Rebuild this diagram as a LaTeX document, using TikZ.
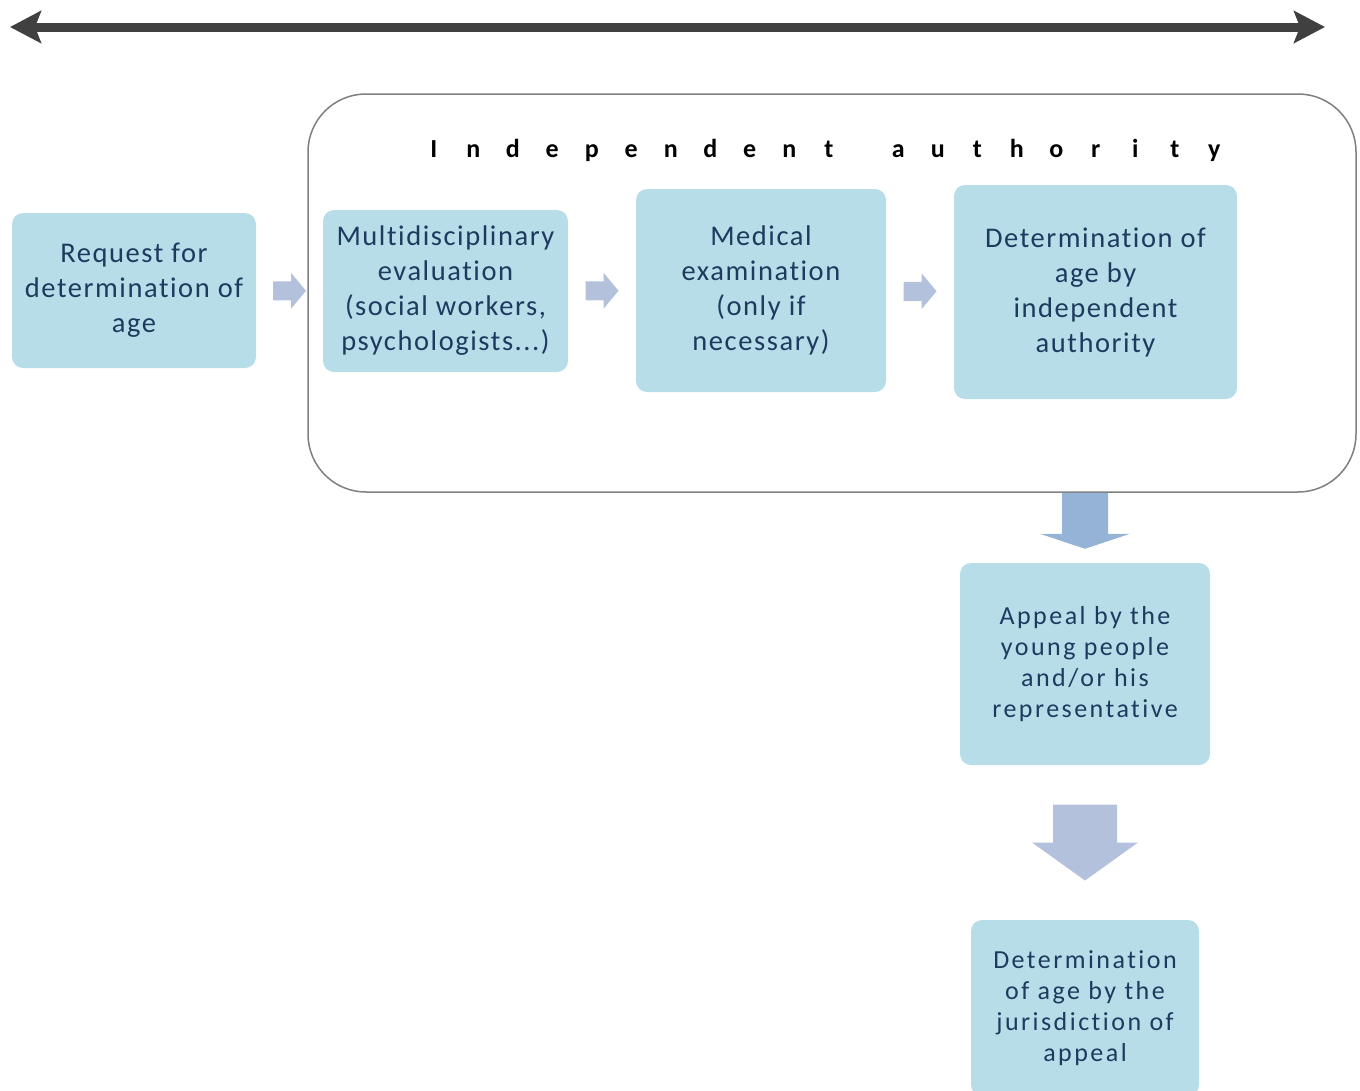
\documentclass[tikz,border=0pt]{standalone}
\usepackage{fontspec}
\setmainfont{Carlito}
\newfontfamily\stagefont{Carlito}[LetterSpace=5.5,Ligatures=NoCommon]
\newfontfamily\appealfont{Carlito}[LetterSpace=9.5,Ligatures=NoCommon]
\usetikzlibrary{arrows.meta,calc}

\definecolor{boxfill}{HTML}{B7DDE8}
\definecolor{boxtext}{HTML}{1F3A5F}
\definecolor{frameline}{HTML}{7F7F7F}
\definecolor{smallarrow}{HTML}{B4C1DD}
\definecolor{firstdown}{HTML}{95B3D7}
\definecolor{seconddown}{HTML}{B4C1DD}
\definecolor{timeline}{HTML}{404040}

% one letter of the spaced-out heading
\newcommand\spacedletter[1]{\makebox[39.5pt]{#1}}

\tikzset{
  stagebox/.style={fill=boxfill, rounded corners=11pt, inner sep=0pt,
    text=boxtext, align=center,
    font=\stagefont\fontsize{28.5}{35}\selectfont},
  appealbox/.style={stagebox, font=\appealfont\fontsize{26}{31}\selectfont},
  rightarrow/.pic={
    \fill[smallarrow] (-16.5,-9.5) -- (1.5,-9.5) -- (1.5,-18) -- (16.5,0)
      -- (1.5,18) -- (1.5,9.5) -- (-16.5,9.5) -- cycle;
  },
}

\begin{document}
\begin{tikzpicture}[x=1pt,y=-1pt]
\useasboundingbox (0,0) rectangle (1360,1090);
\begin{scope}
\clip (0,0) rectangle (1360,1090);

% timeline across the top
\coordinate (tl) at (10,27);
\coordinate (tr) at (1325,27);
\draw[timeline, line width=9pt,
      {Stealth[length=31pt,width=32pt,inset=6pt]}-{Stealth[length=31pt,width=32pt,inset=6pt]}]
  (tl) -- (tr);

% frame of the independent authority
\node[draw=frameline, line width=1.5pt, rounded corners=58pt,
      minimum width=1048pt, minimum height=398pt, inner sep=0pt]
  (authority) at (832,293) {};
\node[font=\fontsize{26}{30}\selectfont\bfseries, text=black, inner sep=0pt,
      anchor=base]
  (title) at (824,157)
  {\spacedletter{I}\spacedletter{n}\spacedletter{d}\spacedletter{e}\spacedletter{p}\spacedletter{e}\spacedletter{n}\spacedletter{d}\spacedletter{e}\spacedletter{n}\spacedletter{t}\hspace{30pt}\spacedletter{a}\spacedletter{u}\spacedletter{t}\spacedletter{h}\spacedletter{o}\spacedletter{r}\spacedletter{i}\spacedletter{t}\spacedletter{y}};

% stages
\node[stagebox, minimum width=244pt, minimum height=155pt]
  (request) at (134,290.5) {Request for\\determination of\\age};
\node[stagebox, minimum width=245pt, minimum height=162pt]
  (multi) at (445.5,291) {Multidisciplinary\\evaluation\\(social workers,\\psychologists...)};
\node[stagebox, minimum width=250pt, minimum height=203pt]
  (medical) at (761,290.5) {Medical\\examination\\(only if\\necessary)};
\node[stagebox, minimum width=283pt, minimum height=214pt]
  (decision) at (1095.5,292) {Determination of\\age by\\independent\\authority};
\node[appealbox, minimum width=250pt, minimum height=202pt]
  (appeal) at (1085,664) {Appeal by the\\young people\\and/or his\\representative};
\node[appealbox, minimum width=228pt, minimum height=176pt]
  (final) at (1085,1008) {Determination\\of age by the\\jurisdiction of\\appeal};

% block arrows between the stages
\pic at ($(request.east)!0.5!(multi.west)$) {rightarrow};
\pic at ($(multi.east)!0.5!(medical.west)$) {rightarrow};
\pic at ($(medical.east)!0.5!(decision.west)$) {rightarrow};

\coordinate (d1) at (authority.south -| appeal.north);
\fill[firstdown] ($(d1)+(-23,0)$) -- ($(d1)+(23,0)$) -- ($(d1)+(23,41)$)
  -- ($(d1)+(45,41)$) -- ($(d1)+(0,56)$) -- ($(d1)+(-45,41)$)
  -- ($(d1)+(-23,41)$) -- cycle;

\coordinate (d2) at ($(appeal.south)!0.5!(final.north)$);
\fill[seconddown] ($(d2)+(-32,-38)$) -- ($(d2)+(32,-38)$) -- ($(d2)+(32,0)$)
  -- ($(d2)+(53,0)$) -- ($(d2)+(0,38)$) -- ($(d2)+(-53,0)$)
  -- ($(d2)+(-32,0)$) -- cycle;
\end{scope}
\end{tikzpicture}
\end{document}
